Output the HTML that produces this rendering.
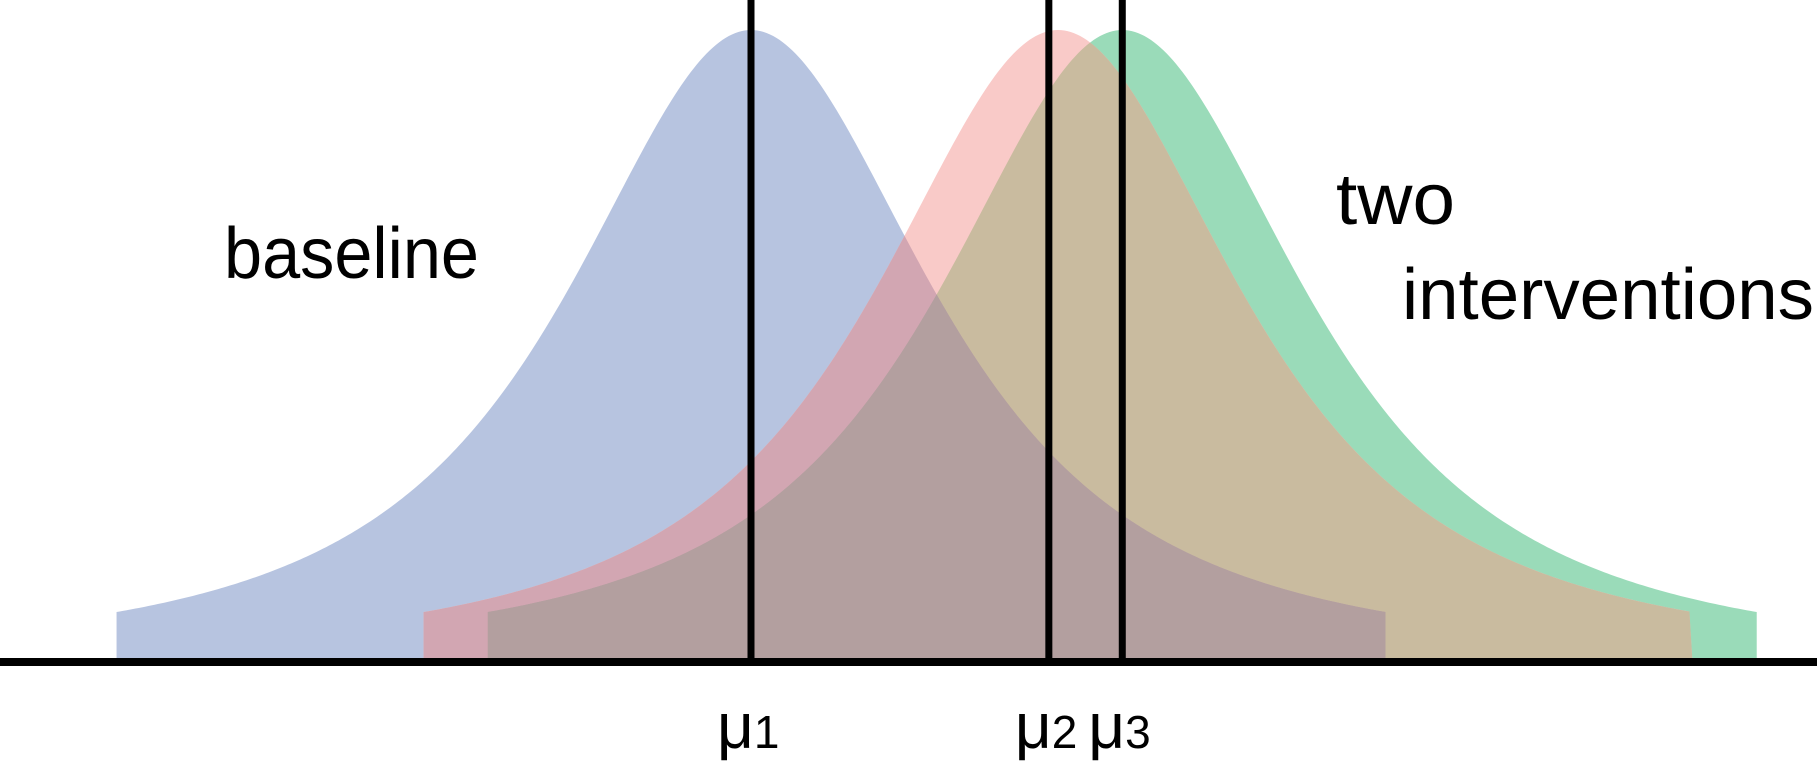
<!DOCTYPE html>
<html><head><meta charset="utf-8"><style>
html,body{margin:0;padding:0;background:#fff;}
svg{display:block;}
text{font-family:"Liberation Sans",sans-serif;fill:#000;}
</style></head><body>
<svg id="chart" width="1817" height="768" viewBox="0 0 1817 768" xmlns="http://www.w3.org/2000/svg">
<g id="areas"></g>
<g id="lines"></g>
<rect x="0" y="658" width="1817" height="8" fill="#000"/>
<text x="224" y="278" font-size="72" textLength="255" lengthAdjust="spacingAndGlyphs">baseline</text>
<text x="1336" y="224" font-size="72" textLength="119" lengthAdjust="spacingAndGlyphs">two</text>
<text x="1402" y="319" font-size="72" textLength="412" lengthAdjust="spacingAndGlyphs">interventions</text>
<g id="mulabels"></g>
</svg>
<script>
// data (distribution units; 1 unit = scale width)
const seriesNames = ["baseline", "intervention-a", "intervention-b"];
const means = [0, 1.505, 1.82];
const meanLinePositions = [0, 1.46, 1.82];
const tailCut = [3.11, 3.11, 3.11];
const meanLabels = ["1", "2", "3"];
const colors = ["#b7c4e0", "#f9cac8", "#9adbb9"];

const X0 = 751, UNIT = 204, YBASE = 662, YPEAK = 30, NU = 1.6;
function xScale(v){ return X0 + v*UNIT; }
function yScale(d){ return YBASE - d*(YBASE-YPEAK); }
function dens(i, v){
  const u = v - means[i];
  if (Math.abs(u) > tailCut[i]) return 0;
  return Math.pow(1 + u*u/NU, -(NU+1)/2);
}
const NS = "http://www.w3.org/2000/svg";
function areaPath(idxs){
  let lo = -Infinity, hi = Infinity;
  idxs.forEach(i => { lo = Math.max(lo, means[i]-tailCut[i]); hi = Math.min(hi, means[i]+tailCut[i]); });
  if (lo >= hi) return "";
  const N = 400;
  let d = "M" + xScale(lo) + "," + YBASE;
  for (let k = 0; k <= N; k++){
    const v = lo + (hi-lo)*k/N;
    let m = Infinity;
    idxs.forEach(i => { m = Math.min(m, dens(i, v)); });
    d += " L" + xScale(v).toFixed(2) + "," + yScale(m).toFixed(2);
  }
  d += " L" + xScale(hi) + "," + YBASE + " Z";
  return d;
}
const areas = document.getElementById("areas");
function addArea(idxs, color, name){
  const p = document.createElementNS(NS, "path");
  p.setAttribute("d", areaPath(idxs));
  p.setAttribute("fill", color);
  
  
  areas.appendChild(p);
}
addArea([0], colors[0], "baseline-area");
addArea([2], colors[2], "intervention-b-area");
addArea([1], colors[1], "intervention-a-area");
addArea([1,2], "#c9bb9f", "intervention-overlap-area");
addArea([0,1], "#d2a6b2", "baseline-intervention-a-overlap");
addArea([0,2], "#b39f9f", "all-overlap-area");
addArea([0,1,2], "#b39f9f", "triple-overlap-area");

const lines = document.getElementById("lines");
const labs = document.getElementById("mulabels");
meanLinePositions.forEach((m, i) => {
  const r = document.createElementNS(NS, "rect");
  r.setAttribute("x", xScale(m) - 3.5);
  r.setAttribute("y", 0);
  r.setAttribute("width", 7);
  r.setAttribute("height", YBASE);
  r.setAttribute("fill", "#000");
  
  
  lines.appendChild(r);
  const t = document.createElementNS(NS, "text");
  t.setAttribute("x", xScale(m) - 34);
  t.setAttribute("y", 748);
  t.setAttribute("font-size", "64");
  t.textContent = "μ";
  const s = document.createElementNS(NS, "tspan");
  s.setAttribute("font-size", "46");
  s.textContent = meanLabels[i];
  t.appendChild(s);
  
  
  labs.appendChild(t);
});
</script>
</body></html>
